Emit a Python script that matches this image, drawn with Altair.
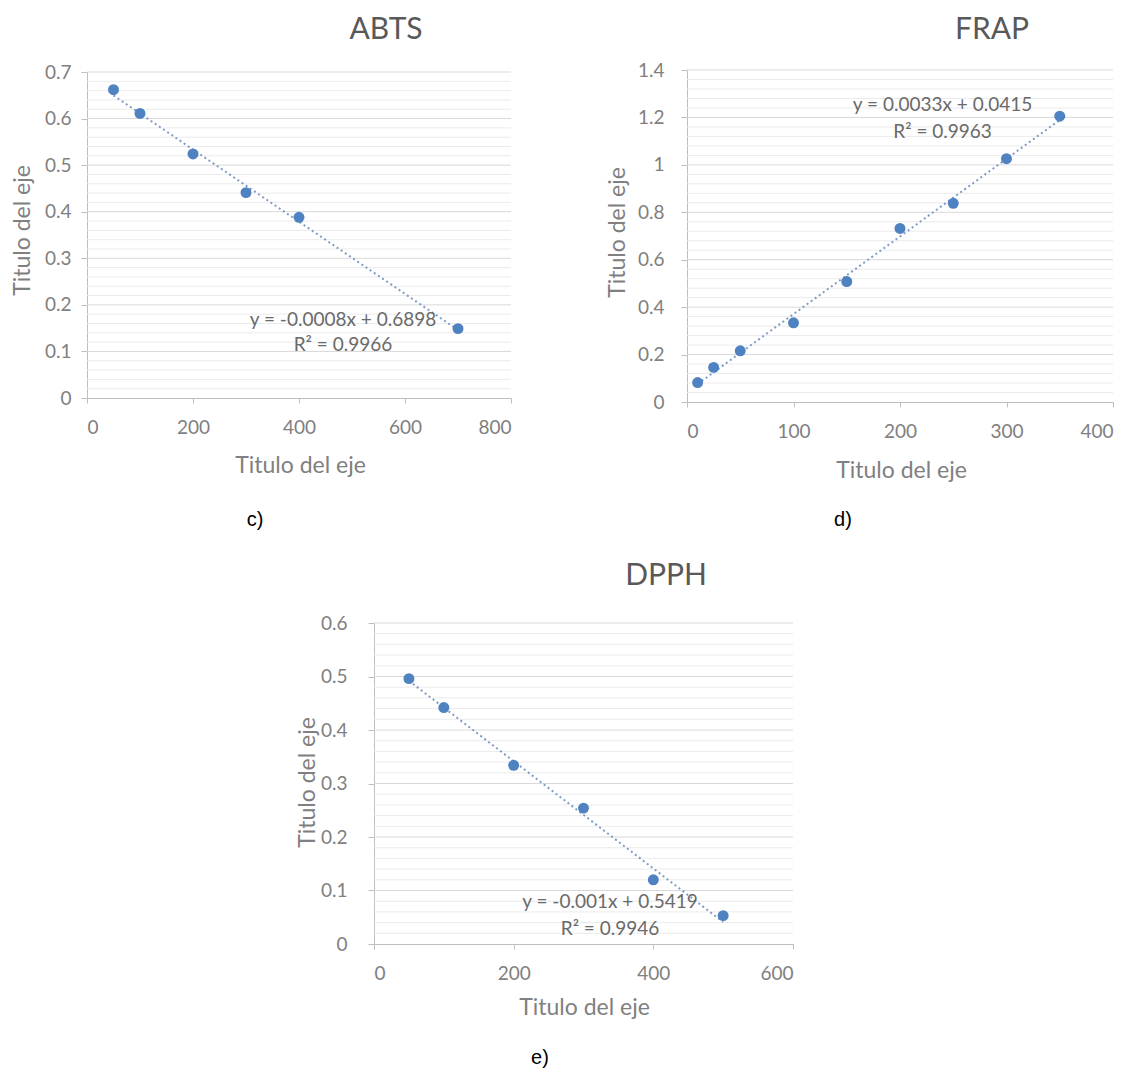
import altair as alt
import pandas as pd

# ---------------- data ----------------
abts_x = [50, 100, 200, 300, 400, 700]
abts_y = [0.662, 0.611, 0.524, 0.441, 0.388, 0.149]

frap_x = [10, 25, 50, 100, 150, 200, 250, 300, 350]
frap_y = [0.082, 0.146, 0.216, 0.334, 0.508, 0.732, 0.838, 1.026, 1.205]

dpph_x = [50, 100, 200, 300, 400, 500]
dpph_y = [0.496, 0.442, 0.334, 0.254, 0.120, 0.053]

abts_xticks = [0, 200, 400, 600, 800]
abts_yticks = [0, 0.1, 0.2, 0.3, 0.4, 0.5, 0.6, 0.7]
frap_xticks = [0, 100, 200, 300, 400]
frap_yticks = [0, 0.2, 0.4, 0.6, 0.8, 1, 1.2, 1.4]
dpph_xticks = [0, 200, 400, 600]
dpph_yticks = [0, 0.1, 0.2, 0.3, 0.4, 0.5, 0.6]

titles = ["ABTS", "FRAP", "DPPH"]
letters = ["c)", "d)", "e)"]
equations = ["y = -0.0008x + 0.6898", "y = 0.0033x + 0.0415", "y = -0.001x + 0.5419"]
r2_texts = ["R² = 0.9966", "R² = 0.9963", "R² = 0.9946"]
axis_title = "Titulo del eje"

# ---------------- layout / style ----------------
M = 8                      # page margin
W, H = 1119, 1067          # drawing area
FONT = "Lato"
BLUE = "#4f82c0"
TREND = "#7f9cc4"
GRID = "#d9d9d9"
MINOR = "#ebebeb"
AXIS = "#bfbfbf"
LABEL = "#808080"
TITLE = "#595959"


def panel(xs, ys, xticks, yticks, xpx, ypx, eq, r2, eq_xy, xt, yt, ylabpad):
    x0, x1 = xpx[0] - M, xpx[1] - M
    y0, y1 = ypx[0] - M, ypx[1] - M

    def xsc():
        return alt.Scale(domain=[xticks[0], xticks[-1]], range=[x0, x1], nice=False, zero=False)

    def ysc():
        return alt.Scale(domain=[yticks[0], yticks[-1]], range=[y0, y1], nice=False, zero=False)

    xaxis = alt.Axis(orient="bottom", offset=y0 - H, values=xticks, format="d",
                     title=axis_title, titleX=xt[0] - M, titleY=xt[1] - ypx[0],
                     titleAlign="center", titleBaseline="middle",
                     labelPadding=15, tickSize=5, grid=False)
    yaxis = alt.Axis(orient="left", offset=-x0, values=yticks, format="~g",
                     title=axis_title, titleX=yt[0] - xpx[0], titleY=yt[1] - M,
                     titleAlign="center", titleBaseline="middle", titleAngle=270,
                     labelPadding=ylabpad, tickSize=6, grid=False)

    df = pd.DataFrame({"x": xs, "y": ys})
    step = yticks[1] - yticks[0]
    minor_vals = [yticks[i] + step * k / 5 for i in range(len(yticks) - 1) for k in range(1, 5)]
    major = pd.DataFrame({"v": yticks[1:], "a": xticks[0], "b": xticks[-1]})
    minor = pd.DataFrame({"v": minor_vals, "a": xticks[0], "b": xticks[-1]})

    def rules(d, color):
        return alt.Chart(d).mark_rule(color=color, strokeWidth=1).encode(
            x=alt.X("a:Q", scale=xsc(), axis=None),
            x2="b:Q",
            y=alt.Y("v:Q", scale=ysc(), axis=None),
        )

    trend = alt.Chart(df).transform_regression(
        "x", "y", extent=[min(xs), max(xs)]
    ).mark_line(color=TREND, strokeDash=[2, 3], strokeWidth=2).encode(
        x=alt.X("x:Q", scale=xsc(), axis=None),
        y=alt.Y("y:Q", scale=ysc(), axis=None),
    )
    pts = alt.Chart(df).mark_circle(size=120, color=BLUE, opacity=1).encode(
        x=alt.X("x:Q", scale=xsc(), axis=xaxis),
        y=alt.Y("y:Q", scale=ysc(), axis=yaxis),
    )
    eqdf = pd.DataFrame({"t": [eq, r2], "ex": [eq_xy[0], eq_xy[0]], "ey": [eq_xy[1], eq_xy[2]]})
    eqt = alt.Chart(eqdf).mark_text(font=FONT, fontSize=19, color="#6a6a6a",
                                    align="center", baseline="middle").encode(
        x=alt.X("ex:Q", scale=xsc(), axis=None),
        y=alt.Y("ey:Q", scale=ysc(), axis=None),
        text="t:N",
    )
    return [rules(minor, MINOR), rules(major, GRID), trend, pts, eqt]


pA = panel(abts_x, abts_y, abts_xticks, abts_yticks, (87, 511), (398, 72),
           equations[0], r2_texts[0], (483, 0.1675, 0.114), (300, 465), (22, 230), 10)
pB = panel(frap_x, frap_y, frap_xticks, frap_yticks, (687, 1113), (402, 70),
           equations[1], r2_texts[1], (240, 1.253, 1.139), (901, 470), (617, 232), 17)
pC = panel(dpph_x, dpph_y, dpph_xticks, dpph_yticks, (374, 793), (944, 623),
           equations[2], r2_texts[2], (338, 0.0785, 0.028), (584, 1007), (307, 782), 21)


def label(text, px, py, font, size, color, baseline):
    return alt.Chart(pd.DataFrame({"t": [text]})).mark_text(
        font=font, fontSize=size, color=color, align="center", baseline=baseline
    ).encode(x=alt.value(px - M), y=alt.value(py - M), text="t:N")


deco = [
    label(titles[0], 386, 39, FONT, 30, TITLE, "alphabetic"),
    label(titles[1], 992, 39, FONT, 30, TITLE, "alphabetic"),
    label(titles[2], 666, 585, FONT, 30, TITLE, "alphabetic"),
    label(letters[0], 255, 520, "Liberation Sans", 20, "#000000", "middle"),
    label(letters[1], 843, 520, "Liberation Sans", 20, "#000000", "middle"),
    label(letters[2], 540, 1058, "Liberation Sans", 20, "#000000", "middle"),
]

chart = alt.layer(*pA, *pB, *pC, *deco).resolve_scale(
    x="independent", y="independent"
).properties(
    width=W, height=H, padding=0,
    background="white",
).configure_view(stroke=None).configure_axis(
    labelFont=FONT, labelFontSize=19, labelColor=LABEL,
    titleFont=FONT, titleFontSize=23, titleColor=LABEL, titleFontWeight="normal",
    domainColor=AXIS, tickColor=AXIS, domainWidth=1, tickWidth=1,
)

chart.save("out.html", embed_options={"renderer": "svg", "actions": False})
